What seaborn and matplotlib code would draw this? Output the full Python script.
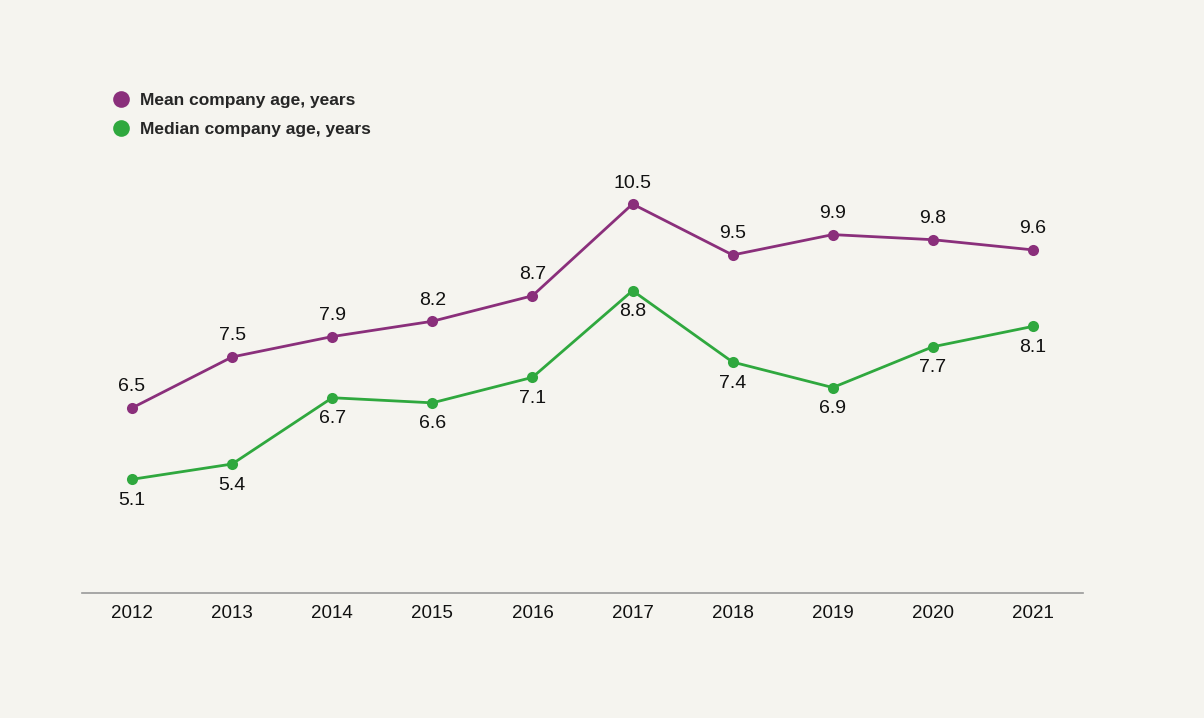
import pandas as pd
import matplotlib.pyplot as plt
import seaborn as sns
from matplotlib.lines import Line2D

# data
years = [2012, 2013, 2014, 2015, 2016, 2017, 2018, 2019, 2020, 2021]
mean_age = [6.5, 7.5, 7.9, 8.2, 8.7, 10.5, 9.5, 9.9, 9.8, 9.6]
median_age = [5.1, 5.4, 6.7, 6.6, 7.1, 8.8, 7.4, 6.9, 7.7, 8.1]
series_names = ["Mean company age, years", "Median company age, years"]

bg = "#F5F4EF"
purple = "#8A2F7B"
green = "#2FA83E"

sns.set_theme(style="white")
plt.rcParams['font.family'] = ['Liberation Sans', 'DejaVu Sans']

df = pd.DataFrame({
    "year": years * 2,
    "age": mean_age + median_age,
    "series": [series_names[0]] * len(years) + [series_names[1]] * len(years),
})

fig = plt.figure(figsize=(12.04, 7.18), dpi=100, facecolor=bg)
ax = fig.add_axes([0.0681, 0.1741, 0.8314, 0.6866], facecolor=bg)

sns.lineplot(data=df, x="year", y="age", hue="series",
             palette=[purple, green], marker="o", markersize=8,
             markeredgewidth=0, linewidth=2, legend=False, ax=ax)

# value labels: mean above, median below
for x, y in zip(years, mean_age):
    ax.annotate(f"{y:.1f}", (x, y), xytext=(0, 9), textcoords="offset points",
                ha="center", va="bottom", fontsize=14, color="#111111")
for x, y in zip(years, median_age):
    ax.annotate(f"{y:.1f}", (x, y), xytext=(0, -9), textcoords="offset points",
                ha="center", va="top", fontsize=14, color="#111111")

ax.set_xlim(2011.5, 2021.5)
ax.set_ylim(2.87, 12.54)
ax.set_xticks(years)
ax.set_xticklabels([str(y) for y in years], fontsize=13.5, color="#111111")
ax.set_yticks([])
ax.set_xlabel("")
ax.set_ylabel("")
ax.tick_params(axis="x", length=0, pad=9)
for side in ["top", "right", "left"]:
    ax.spines[side].set_visible(False)
ax.spines["bottom"].set_color("#999999")
ax.spines["bottom"].set_linewidth(1.2)

handles = [Line2D([], [], marker="o", linestyle="", markersize=12, color=c, markeredgewidth=0)
           for c in [purple, green]]
fig.legend(handles, series_names, loc="upper left", bbox_to_anchor=(0.08, 0.893),
           frameon=False, handletextpad=0.6, labelspacing=0.8,
           prop={"size": 12.5, "weight": "bold"}, handlelength=1.0)

fig.savefig("out.png", dpi=100, facecolor=bg)
